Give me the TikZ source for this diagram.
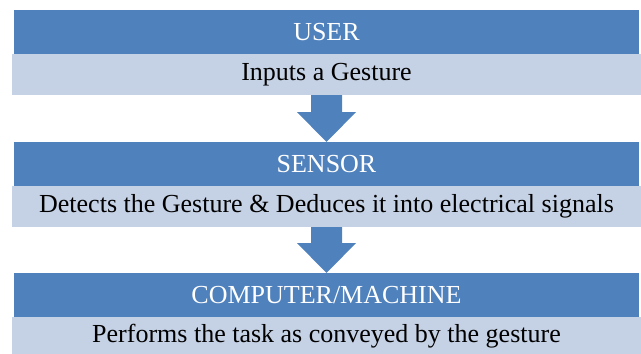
\documentclass[tikz,border=0pt]{standalone}
\usepackage{fontspec}
\setmainfont{Liberation Serif}
\definecolor{hdr}{HTML}{4F81BD}
\definecolor{bdy}{HTML}{C5D1E4}
\begin{document}
\begin{tikzpicture}[x=1pt,y=-1pt,
  hdrbox/.style={fill=hdr,draw=none,inner sep=0pt,text=white,minimum width=625pt,minimum height=44pt,font=\fontsize{26}{30}\selectfont},
  bdybox/.style={fill=bdy,draw=none,inner sep=0pt,text=black,minimum width=629pt,minimum height=41pt,font=\fontsize{26}{30}\selectfont},
  downarrow/.style={fill=hdr,draw=none}]
\useasboundingbox (0,0) rectangle (641,354);
% stage 1
\node[bdybox] (b1) at (326.5,74.5) {Inputs a Gesture};
\node[hdrbox] (h1) at (326.5,32) {USER};
% stage 2
\node[bdybox] (b2) at (326.5,206.5) {Detects the Gesture \& Deduces it into electrical signals};
\node[hdrbox] (h2) at (326.5,164) {SENSOR};
% stage 3
\node[bdybox,minimum height=39pt] (b3) at (326.5,336.5) {Performs the task as conveyed by the gesture};
\node[hdrbox] (h3) at (326.5,295) {COMPUTER/MACHINE};
% arrows
\fill[downarrow] ([xshift=-15.5pt]b1.south) -- ([xshift=15.5pt]b1.south) -- ++(0,17) -- ++(14,0) -- (h2.north) -- ([xshift=-29.5pt,yshift=-17pt]b1.south) -- ++(14,0) -- cycle;
\fill[downarrow] ([xshift=-15.5pt]b2.south) -- ([xshift=15.5pt]b2.south) -- ++(0,16) -- ++(14,0) -- (h3.north) -- ([xshift=-29.5pt,yshift=-16pt]b2.south) -- ++(14,0) -- cycle;
\end{tikzpicture}
\end{document}
